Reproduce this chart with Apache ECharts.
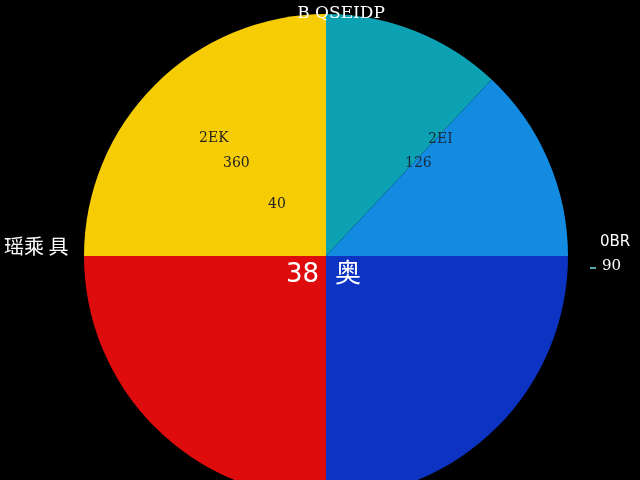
<!DOCTYPE html>
<html>
<head>
<meta charset="utf-8">
<script src="https://cdn.jsdelivr.net/npm/echarts@6/dist/echarts.min.js"></script>
<style>html,body{margin:0;padding:0;background:#000;}#c{width:640px;height:480px;}</style>
</head>
<body>
<div id="c"></div>
<script>
var titleText = "B QSEIDP";
var sliceNames = ["2EI", "126", "奥", "38", "2EK"];
var sliceValues = [12, 13, 25, 25, 25];
var sliceColors = ["#0CA2B3", "#128BE1", "#0C33C1", "#DF0C0E", "#F6CD04"];
var sideLabels = ["瑶乘 具", "0BR", "90"];
var innerLabels = ["2EK", "360", "40", "2EI", "126"];

var chart = echarts.init(document.getElementById('c'));
function txt(x, y, s, fill, font) {
  return { type: 'text', x: x, y: y, z: 100, zlevel: 1, style: { text: s, fill: fill, font: font } };
}
chart.setOption({
  backgroundColor: '#000',
  animation: false,
  title: {
    text: titleText, left: 336, top: 0, textAlign: 'center',
    textStyle: { color: '#fff', fontSize: 17, fontWeight: 'normal', fontFamily: 'DejaVu Serif' }
  },
  series: [{
    type: 'pie',
    center: [326, 256],
    radius: [0, 242],
    startAngle: 90,
    clockwise: true,
    label: { show: false },
    labelLine: { show: false },
    emphasis: { disabled: true },
    itemStyle: { borderWidth: 0 },
    data: sliceNames.map(function (n, i) {
      return { name: n, value: sliceValues[i], itemStyle: { color: sliceColors[i] } };
    })
  }],
  graphic: [
    txt(4, 236, sideLabels[0], '#fff', '20px "Noto Sans CJK SC"'),
    txt(600, 235, sideLabels[1], '#fff', '15px "DejaVu Sans"'),
    txt(602, 259, sideLabels[2], '#fff', '15px "DejaVu Serif"'),
    { type: 'line', z: 100, zlevel: 1, shape: { x1: 590, y1: 268, x2: 596, y2: 268 }, style: { stroke: '#5aa', lineWidth: 2 } },
    txt(199, 131, innerLabels[0], '#222', '14px "DejaVu Serif"'),
    txt(223, 156, innerLabels[1], '#222', '14px "DejaVu Serif"'),
    txt(268, 197, innerLabels[2], '#222', '14px "DejaVu Serif"'),
    txt(428, 132, innerLabels[3], '#1a2a3a', '14px "DejaVu Serif"'),
    txt(405, 156, innerLabels[4], '#1a2a3a', '14px "DejaVu Serif"'),
    txt(286, 262, sliceNames[3], '#fff', '26px "DejaVu Sans"'),
    txt(335, 259, sliceNames[2], '#fff', '26px "Noto Sans CJK SC"')
  ]
});
</script>
</body>
</html>
